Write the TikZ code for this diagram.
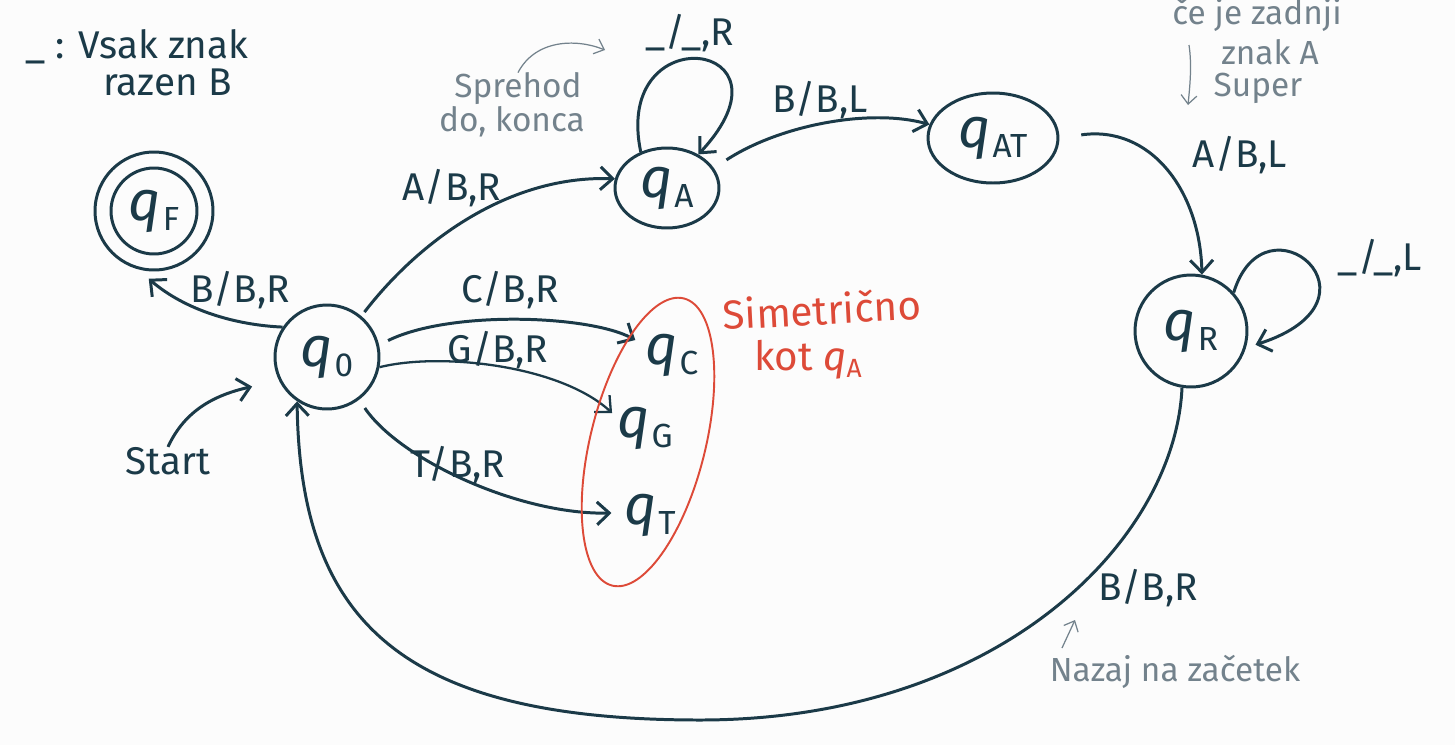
\documentclass[tikz,border=0pt]{standalone}
\usepackage{fontspec}
\setmainfont{Fira Sans}
\usetikzlibrary{arrows.meta,shapes.geometric}
\definecolor{ink}{RGB}{27,58,72}
\definecolor{redink}{RGB}{221,74,56}
\definecolor{grayink}{RGB}{115,130,140}
\definecolor{paper}{RGB}{252,252,252}
\newcommand{\qlab}[1]{{\fontsize{32}{32}\selectfont\textit{q}\kern0.03em\raisebox{-0.35ex}{\fontsize{19}{19}\selectfont #1}}}
\begin{document}
\begin{tikzpicture}[x=0.02cm,y=-0.02cm,
  tip/.style={-{Straight Barb[length=7pt,width=13pt]}},
  stat/.style={circle,draw=ink,line width=1.7pt,inner sep=0pt,text=ink},
  qtext/.style={inner sep=0pt,text=ink},
  lbl/.style={font=\fontsize{22}{26}\selectfont,text=ink,inner sep=0pt},
  note/.style={font=\fontsize{19}{22}\selectfont,text=grayink,inner sep=0pt},
  rednote/.style={font=\fontsize{23}{27}\selectfont,text=redink,inner sep=0pt},
  edge/.style={draw=ink,line width=1.7pt,tip},
  thinarrow/.style={draw=grayink,line width=0.7pt,-{Straight Barb[length=5pt,width=9pt]}}]
\fill[paper] (0,0) rectangle (1455,745);
\useasboundingbox (0,0) rectangle (1455,745);

% states
\node[stat,minimum size=2.36cm] (qF) at (154,211) {};
\node[stat,minimum size=1.72cm] (qFi) at (154,211) {\qlab{F}};
\node[stat,minimum size=2.08cm] (q0) at (327,357) {\qlab{0}};
\node[stat,ellipse,minimum width=2.08cm,minimum height=1.6cm] (qA) at (667,188) {\qlab{A}};
\node[stat,ellipse,minimum width=2.6cm,minimum height=1.8cm] (qAT) at (993,138) {\qlab{AT}};
\node[stat,minimum size=2.24cm] (qR) at (1191,331) {\qlab{R}};
\node[qtext] (qC) at (672,355) {\qlab{C}};
\node[qtext] (qG) at (645,428) {\qlab{G}};
\node[qtext] (qT) at (650,515) {\qlab{T}};

% edges
\draw[edge] (q0.146) .. controls (235,325) and (185,310) .. ([yshift=-0.15cm]qF.-95);
\draw[edge,shorten <=0.1cm] (q0.50) .. controls (420,240) and (510,175) .. (qA.170);
\draw[edge,shorten <=0.2cm] (q0.13) .. controls (450,310) and (590,315) .. ([xshift=-0.2cm,yshift=0.3cm]qC.west);
\draw[edge,line width=1.3pt] (q0.-11) .. controls (440,352) and (560,365) .. ([xshift=-0.1cm,yshift=0.3cm]qG.west);
\draw[edge,shorten <=0.2cm] (q0.-53) .. controls (400,460) and (520,515) .. ([xshift=-0.25cm,yshift=0.04cm]qT.west);
\draw[edge] (qA.126) .. controls (612,15) and (805,40) .. (qA.47);
\draw[edge,shorten <=0.3cm] (qA.23) .. controls (780,125) and (870,108) .. (qAT.168);
\draw[edge,shorten <=0.44cm] (qAT.0) .. controls (1150,125) and (1200,190) .. (qR.79);
\draw[edge,shorten >=0.2cm] (qR.42) .. controls (1265,190) and (1395,300) .. (qR.-17);
\draw[edge] (qR.-99) .. controls (1175,540) and (1000,720) .. (700,720)
   .. controls (400,720) and (300,620) .. (q0.-124);

% start
\node[lbl] (start) at (168,461) {Start};
\draw[edge,shorten >=0.55cm] (start.north) .. controls (185,410) and (215,395) .. (q0.206);

% edge labels
\node[lbl] (lF) at (240,290) {B/B,R};
\node[lbl] (lA) at (452,188) {A/B,R};
\node[lbl] (lC) at (510,290) {C/B,R};
\node[lbl] (lG) at (498,350) {G/B,R};
\node[lbl] (lT) at (458,465) {T/B,R};
\node[lbl] (lAA) at (690,33) {\_/\_,R};
\node[lbl] (lAT) at (820,100) {B/B,L};
\node[lbl] (lR) at (1240,155) {A/B,L};
\node[lbl] (lRR) at (1380,258) {\_/\_,L};
\node[lbl] (lback) at (1148,588) {B/B,R};

% legend
\node[lbl,anchor=west] (leg1) at (25,47) {\_ : Vsak znak};
\node[lbl,anchor=west] (leg2) at (103,82) {razen B};

% gray notes
\node[note] (spr1) at (518,89) {Sprehod};
\node[note] (spr2) at (512,122) {do, konca};
\coordinate (sprend) at (605,50);
\draw[thinarrow] (spr1.north) .. controls (535,40) and (575,38) .. (sprend);
\node[note] (ce1) at (1257,15) {če je zadnji};
\node[note] (ce2) at (1270,52) {znak A};
\node[note] (ce3) at (1258,88) {Super};
\coordinate (ceA) at (1189,45);
\coordinate (ceB) at (1188,105);
\draw[thinarrow] (ceA) .. controls (1192,65) and (1190,85) .. (ceB);
\node[note] (naz) at (1175,672) {Nazaj na začetek};
\coordinate (nazA) at (1062,648);
\coordinate (nazB) at (1075,620);
\draw[thinarrow] (nazA) -- (nazB);

% red annotation
\draw[redink,line width=1.1pt,rotate around={76:(648,442)}] (648,442) ellipse [x radius=2.96cm,y radius=1.15cm];
\node[rednote,rotate=3] (sim1) at (822,309) {Simetrično};
\node[rednote] (sim2) at (808,360) {kot \textit{q}\raisebox{-0.3ex}{\fontsize{15}{15}\selectfont A}};
\end{tikzpicture}
\end{document}
